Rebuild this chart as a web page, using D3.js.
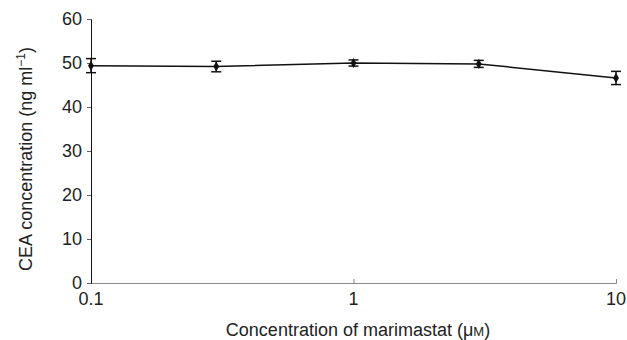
<!DOCTYPE html>
<html>
<head>
<meta charset="utf-8">
<script src="https://d3js.org/d3.v7.min.js"></script>
<style>
  body { margin: 0; background: #fff; }
  svg { display: block; font-family: "Liberation Sans", Arial, sans-serif; }
</style>
</head>
<body>
<svg id="chart" width="627" height="340"></svg>
<script>
// marimastat concentration (uM) and CEA concentration (ng/ml)
const doses = [0.1, 0.3, 1, 3, 10];
const ceaMean = [49.4, 49.2, 50.0, 49.8, 46.6];
const ceaErr = [1.6, 1.2, 0.7, 0.8, 1.5];
const yTicks = [0, 10, 20, 30, 40, 50, 60];
const xTicks = [0.1, 1, 10];

const data = doses.map((d, i) => ({ x: d, y: ceaMean[i], e: ceaErr[i] }));

const svg = d3.select('#chart');
const margin = { left: 91, right: 11, top: 19, bottom: 57 };
const width = 627, height = 340;
const fontSize = 18;

const x = d3.scaleLog()
  .domain([0.1, 10])
  .range([margin.left, width - margin.right]);
const y = d3.scaleLinear()
  .domain([0, 60])
  .range([height - margin.bottom, margin.top]);

// x axis, ticks point up into the plot
const xAxis = svg.append('g')
  .attr('transform', 'translate(0,' + y(0) + ')')
  .call(d3.axisTop(x).tickValues(xTicks).tickSize(4).tickFormat(''));
xAxis.select('.domain').attr('stroke', '#888');
xAxis.selectAll('.tick line').attr('stroke', '#888');
// labels below the axis
svg.append('g').selectAll('text')
  .data(xTicks)
  .enter()
  .append('text')
  .attr('x', d => x(d))
  .attr('y', y(0) + 22)
  .attr('text-anchor', 'middle')
  .attr('font-size', fontSize)
  .attr('fill', '#222')
  .text(d => d3.format('~g')(d));

// y axis
const yAxis = svg.append('g')
  .attr('transform', 'translate(' + margin.left + ',0)')
  .call(d3.axisLeft(y).tickValues(yTicks).tickSize(4).tickPadding(5));
yAxis.select('.domain').attr('stroke', '#111');
yAxis.selectAll('.tick line').attr('stroke', '#666');
yAxis.selectAll('.tick text')
  .attr('font-size', fontSize)
  .attr('fill', '#222')
  .attr('font-family', '"Liberation Sans", Arial, sans-serif');

// line
const line = d3.line().x(d => x(d.x)).y(d => y(d.y));
svg.append('path')
  .datum(data)
  .attr('d', line)
  .attr('fill', 'none')
  .attr('stroke', '#111')
  .attr('stroke-width', 1.5);

// error bars
const eb = svg.append('g').attr('stroke', '#111').attr('stroke-width', 1.5);
data.forEach(d => {
  const cx = x(d.x);
  eb.append('line')
    .attr('x1', cx).attr('x2', cx)
    .attr('y1', y(d.y - d.e)).attr('y2', y(d.y + d.e));
  [d.y - d.e, d.y + d.e].forEach(v => {
    eb.append('line')
      .attr('x1', cx - 5).attr('x2', cx + 5)
      .attr('y1', y(v)).attr('y2', y(v));
  });
});

// diamond markers
svg.append('g').selectAll('path')
  .data(data)
  .enter()
  .append('path')
  .attr('d', d3.symbol().type(d3.symbolDiamond).size(30))
  .attr('transform', d => 'translate(' + x(d.x) + ',' + y(d.y) + ')')
  .attr('fill', '#111');

// axis titles
const yTitle = svg.append('text')
  .attr('transform', 'translate(32,' + 159 + ') rotate(-90)')
  .attr('text-anchor', 'middle')
  .attr('font-size', fontSize)
  .attr('fill', '#222');
yTitle.append('tspan').text('CEA concentration (ng ml');
yTitle.append('tspan').attr('font-size', 12).attr('dy', -7).text('\u22121');
yTitle.append('tspan').attr('dy', 7).text(')');

const xTitle = svg.append('text')
  .attr('x', 358)
  .attr('y', 336)
  .attr('text-anchor', 'middle')
  .attr('font-size', fontSize)
  .attr('fill', '#222');
xTitle.append('tspan').text('Concentration of marimastat (\u03bc');
xTitle.append('tspan').attr('font-size', 13).text('M');
xTitle.append('tspan').text(')');
</script>
</body>
</html>
